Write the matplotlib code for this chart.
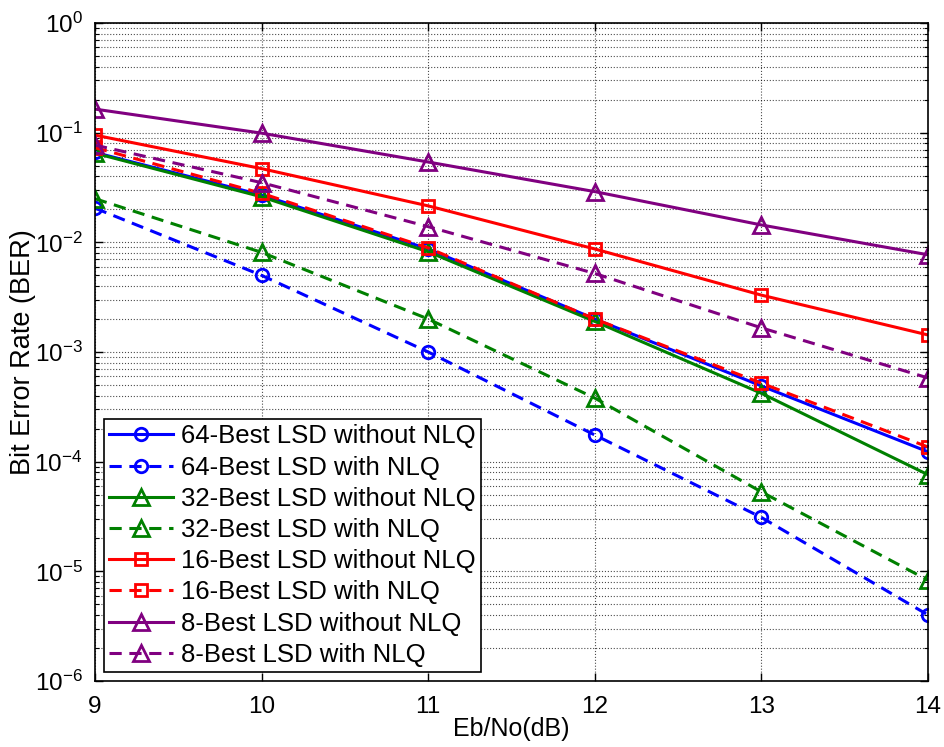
import matplotlib
matplotlib.use('Agg')
import matplotlib.pyplot as plt
from matplotlib.ticker import FixedLocator, NullFormatter

plt.rcParams['font.family'] = ['Liberation Sans', 'DejaVu Sans']
plt.rcParams['mathtext.fontset'] = 'custom'
plt.rcParams['mathtext.rm'] = 'Liberation Sans'

# data
ebno = [9, 10, 11, 12, 13, 14]
ber_64 = [0.066, 0.027, 0.0087, 0.0020, 4.9e-4, 1.23e-4]
ber_64_nlq = [0.0205, 0.0050, 1.0e-3, 1.75e-4, 3.1e-5, 4.0e-6]
ber_32 = [0.065, 0.026, 0.0082, 0.0019, 4.2e-4, 7.6e-5]
ber_32_nlq = [0.025, 0.0081, 0.0020, 3.8e-4, 5.3e-5, 8.3e-6]
ber_16 = [0.095, 0.047, 0.0215, 0.0087, 0.0033, 1.43e-3]
ber_16_nlq = [0.073, 0.028, 0.0089, 0.0020, 5.2e-4, 1.36e-4]
ber_8 = [0.164, 0.099, 0.054, 0.029, 0.0144, 0.0077]
ber_8_nlq = [0.077, 0.035, 0.0139, 0.0052, 1.66e-3, 5.8e-4]
decades = [1e-6, 1e-5, 1e-4, 1e-3, 1e-2, 1e-1, 1e0]

data = [ber_64, ber_64_nlq, ber_32, ber_32_nlq, ber_16, ber_16_nlq, ber_8, ber_8_nlq]
labels = ['64-Best LSD without NLQ', '64-Best LSD with NLQ',
          '32-Best LSD without NLQ', '32-Best LSD with NLQ',
          '16-Best LSD without NLQ', '16-Best LSD with NLQ',
          '8-Best LSD without NLQ', '8-Best LSD with NLQ']
colors = ['#0000ff', '#0000ff', '#008000', '#008000', '#ff0000', '#ff0000', '#800080', '#800080']
markers = ['o', 'o', '^', '^', 's', 's', '^', '^']
msizes = [9, 9, 12, 12, 9, 9, 12, 12]
styles = ['-', '--', '-', '--', '-', '--', '-', '--']

fig = plt.figure(figsize=(9.45, 7.47), dpi=100)
ax = fig.add_axes([0.1005, 0.0884, 0.8815, 0.8808])

for i in range(len(data)):
    ax.semilogy(ebno, data[i], label=labels[i], color=colors[i], linestyle=styles[i],
                linewidth=2.2, marker=markers[i], markersize=msizes[i],
                markerfacecolor='none', markeredgewidth=2, markeredgecolor=colors[i],
                dashes=(4, 2.5) if styles[i] == '--' else (None, None))

ax.set_xlim(9, 14)
ax.set_ylim(1e-6, 1)
ax.set_xticks(ebno)
ax.set_yticks(decades)
minors = [m * d for d in decades[:-1] for m in range(2, 10)]
ax.yaxis.set_minor_locator(FixedLocator(minors))
ax.yaxis.set_minor_formatter(NullFormatter())

ax.grid(True, which='major', linestyle=':', color='black', linewidth=0.8, alpha=0.7)
ax.grid(True, which='minor', axis='y', linestyle=':', color='black', linewidth=0.8, alpha=0.7)
ax.tick_params(which='both', direction='in', top=True, right=True, labelsize=17.5)
ax.tick_params(axis='x', pad=11)
ax.tick_params(axis='y', pad=9)
ax.tick_params(which='major', length=6, width=1)
ax.tick_params(which='minor', length=3, width=0.8)
for s in ax.spines.values():
    s.set_linewidth(1.2)

ax.set_xlabel('Eb/No(dB)', fontsize=18, labelpad=-1)
ax.set_ylabel('Bit Error Rate (BER)', fontsize=19.5, labelpad=-1.5)

leg = ax.legend(loc='lower left', fontsize=18.5, fancybox=False, edgecolor='black',
                framealpha=1, handlelength=2.5, numpoints=1, borderaxespad=0.35,
                labelspacing=0.28, handletextpad=0.3, borderpad=0.2)
leg.get_frame().set_linewidth(1.2)

fig.savefig('out.png', dpi=100)
